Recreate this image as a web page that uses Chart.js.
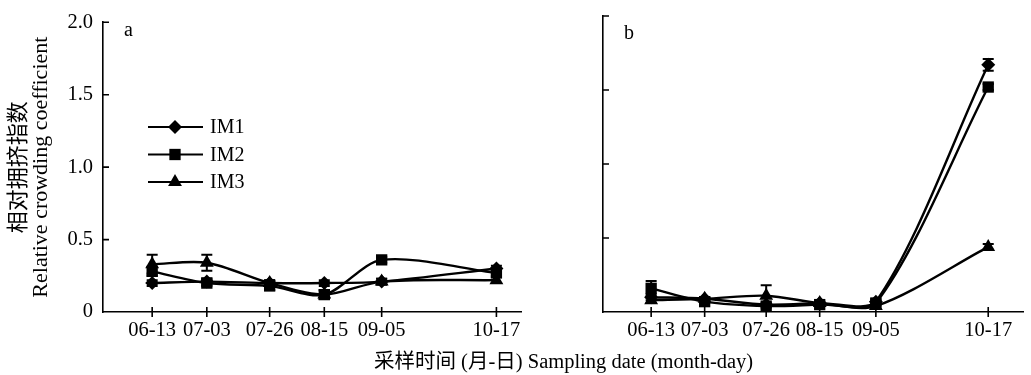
<!DOCTYPE html>
<html>
<head>
<meta charset="utf-8">
<script src="https://cdn.jsdelivr.net/npm/chart.js@4/dist/chart.umd.min.js"></script>
<style>
body{margin:0;background:#fff;width:1031px;height:375px;position:relative;overflow:hidden;font-family:"Liberation Serif","Noto Sans CJK SC",serif;color:#000}
#wa{position:absolute;left:0;top:0}
#wb{position:absolute;left:540px;top:0}
#xt{position:absolute;left:374px;top:344px;font-size:20.5px;white-space:nowrap}
</style>
</head>
<body>
<div id="wa"><canvas id="chartA" width="540" height="375"></canvas></div>
<div id="wb"><canvas id="chartB" width="491" height="375"></canvas></div>
<div id="xt">采样时间 (月-日) Sampling date (month-day)</div>
<script>
// sampling dates, and day offsets from 06-13 (the x axis is in real time)
var dates = ['06-13', '07-03', '07-26', '08-15', '09-05', '10-17'];
var days = [0, 20, 43, 63, 84, 126];
var yTicks = [0, 0.5, 1.0, 1.5, 2.0];
var names = ['IM1', 'IM2', 'IM3'];

// panel a
var im1A = [0.20, 0.21, 0.20, 0.20, 0.21, 0.30];
var im2A = [0.28, 0.20, 0.18, 0.12, 0.36, 0.27];
var im3A = [0.33, 0.34, 0.20, 0.12, 0.21, 0.22];
var im1AErr = [0.02, 0.02, 0.02, 0.02, 0.02, 0.02];
var im2AErr = [0.03, 0.02, 0.03, 0.03, 0.02, 0.02];
var im3AErr = [0.065, 0.055, 0.02, 0.03, 0.02, 0.02];

// panel b
var im1B = [0.10, 0.09, 0.05, 0.06, 0.07, 1.67];
var im2B = [0.16, 0.07, 0.04, 0.05, 0.06, 1.52];
var im3B = [0.08, 0.09, 0.11, 0.06, 0.04, 0.44];
var im1BErr = [0.02, 0.01, 0.01, 0.01, 0.02, 0.04];
var im2BErr = [0.05, 0.01, 0.01, 0.01, 0.02, 0.02];
var im3BErr = [0.02, 0.01, 0.07, 0.01, 0.02, 0.02];

var marks = [
  {pointStyle: 'rectRot', radius: 7},
  {pointStyle: 'rect', radius: 8},
  {pointStyle: 'triangle', radius: 8}
];

function pts(vals) {
  return vals.map(function(v, i) { return {x: days[i], y: v}; });
}

function makeSets(series, errs) {
  return series.map(function(vals, k) {
    return {
      label: names[k],
      data: pts(vals),
      errors: errs[k],
      borderColor: '#000',
      backgroundColor: '#000',
      borderWidth: 2.4,
      pointStyle: marks[k].pointStyle,
      pointRadius: marks[k].radius,
      pointBorderWidth: 0,
      tension: 0.3
    };
  });
}

// error bars, inward ticks, panel letter and the small legend
var deco = {
  id: 'deco',
  beforeDatasetsDraw: function(chart) {
    var ctx = chart.ctx, xs = chart.scales.x, ys = chart.scales.y;
    ctx.save();
    ctx.strokeStyle = '#000';
    ctx.lineWidth = 2;
    chart.data.datasets.forEach(function(ds) {
      ds.data.forEach(function(p, j) {
        var e = ds.errors[j];
        var x = xs.getPixelForValue(p.x);
        var yt = ys.getPixelForValue(p.y + e), yb = ys.getPixelForValue(Math.max(0, p.y - e));
        ctx.beginPath();
        ctx.moveTo(x, yb); ctx.lineTo(x, yt);
        ctx.moveTo(x - 5.5, yt); ctx.lineTo(x + 5.5, yt);
        ctx.moveTo(x - 5.5, yb); ctx.lineTo(x + 5.5, yb);
        ctx.stroke();
      });
    });
    ctx.restore();
  },
  afterDraw: function(chart, args, opts) {
    var ctx = chart.ctx, xs = chart.scales.x, ys = chart.scales.y, a = chart.chartArea;
    ctx.save();
    ctx.strokeStyle = '#000';
    ctx.fillStyle = '#000';
    ctx.lineWidth = 1.6;
    ctx.beginPath();
    yTicks.forEach(function(v) {
      if (v === 0) return;
      var y = ys.getPixelForValue(v);
      ctx.moveTo(a.left, y); ctx.lineTo(a.left + 6, y);
    });
    days.forEach(function(d) {
      var x = xs.getPixelForValue(d);
      ctx.moveTo(x, a.bottom - 5); ctx.lineTo(x, a.bottom + 5);
    });
    ctx.stroke();

    ctx.font = '20px "Liberation Serif"';
    ctx.textBaseline = 'middle';
    ctx.textAlign = 'left';
    ctx.fillText(opts.letter, a.left + 21, opts.letterY);

    if (opts.legend) {
      var lx = 148, ly = 127;
      chart.data.datasets.forEach(function(ds, k) {
        var y = ly + k * 27.5;
        ctx.lineWidth = 2.2;
        ctx.beginPath(); ctx.moveTo(lx, y); ctx.lineTo(lx + 55, y); ctx.stroke();
        Chart.helpers.drawPoint(ctx, {pointStyle: ds.pointStyle, radius: ds.pointRadius, rotation: 0, borderWidth: 0}, lx + 27, y);
        ctx.fillText(ds.label, lx + 62, y + 1);
      });
    }
    ctx.restore();
  }
};

function makeChart(id, series, errs, withY, letter, letterY) {
  var font = {family: '"Liberation Serif"', size: 20.5};
  return new Chart(document.getElementById(id), {
    type: 'line',
    data: {datasets: makeSets(series, errs)},
    options: {
      responsive: false,
      animation: false,
      layout: {padding: {top: 16, right: withY ? 19 : 1, left: 0, bottom: 0}},
      plugins: {
        legend: {display: false},
        tooltip: {enabled: false},
        deco: {letter: letter, letterY: letterY, legend: withY}
      },
      scales: {
        x: {
          type: 'linear',
          min: -18,
          max: withY ? 135 : 139,
          afterBuildTicks: function(s) { s.ticks = days.map(function(d) { return {value: d}; }); },
          afterFit: function(s) { s.height = 63; },
          ticks: {
            color: '#000', font: font, padding: 6, maxRotation: 0, autoSkip: false,
            callback: function(v, i) { return dates[i]; }
          },
          grid: {display: false, drawTicks: false},
          border: {color: '#000', width: 1.6}
        },
        y: {
          min: 0,
          max: 2,
          afterBuildTicks: function(s) { s.ticks = yTicks.map(function(v) { return {value: v}; }); },
          afterFit: function(s) { s.width = withY ? 103 : 63; },
          ticks: {
            display: withY, color: '#000', font: font, padding: 10,
            callback: function(v) { return v === 0 ? '0' : v.toFixed(1); }
          },
          title: {
            display: withY,
            text: ['相对拥挤指数', 'Relative crowding coefficient'],
            color: '#000',
            font: {family: '"Liberation Serif", "Noto Sans CJK SC"', size: 22, lineHeight: 1.0},
            padding: {top: 8, bottom: 0}
          },
          grid: {display: false, drawTicks: false},
          border: {color: '#000', width: 1.6}
        }
      }
    },
    plugins: [deco]
  });
}

makeChart('chartA', [im1A, im2A, im3A], [im1AErr, im2AErr, im3AErr], true, 'a', 31);
makeChart('chartB', [im1B, im2B, im3B], [im1BErr, im2BErr, im3BErr], false, 'b', 34);
</script>
</body>
</html>
